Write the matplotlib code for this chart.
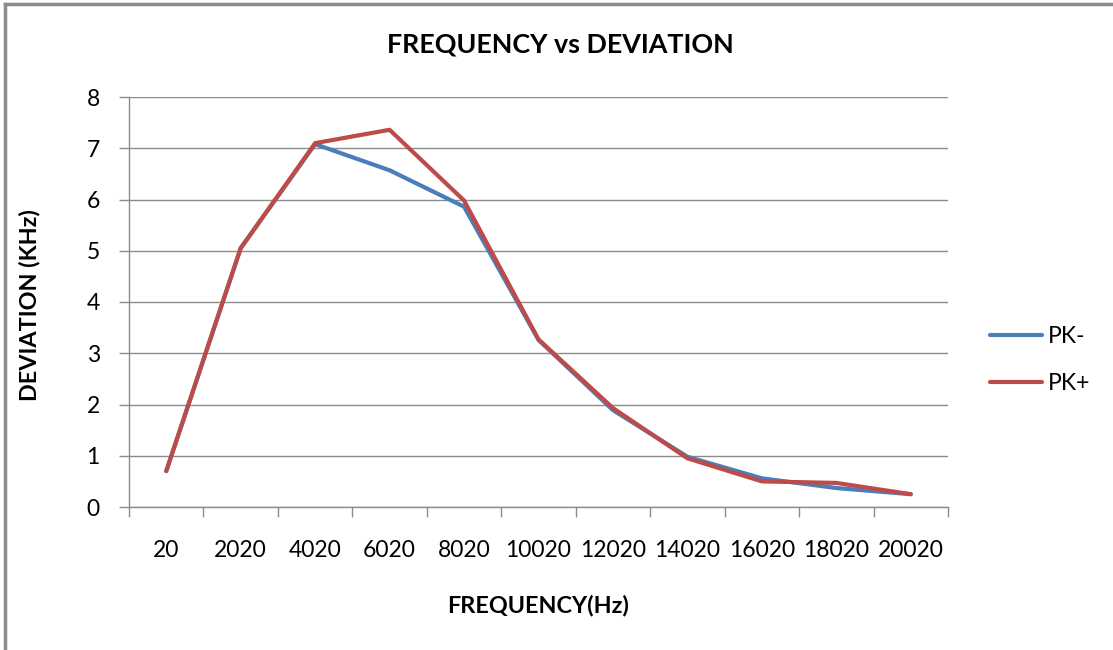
import matplotlib
matplotlib.use("Agg")
import matplotlib.pyplot as plt
from matplotlib.lines import Line2D
import numpy as np

plt.rcParams['font.family'] = ['Lato', 'DejaVu Sans']

categories = ["20", "2020", "4020", "6020", "8020", "10020", "12020", "14020", "16020", "18020", "20020"]
pk_minus = [0.70, 5.05, 7.08, 6.57, 5.86, 3.26, 1.89, 0.98, 0.56, 0.37, 0.25]
pk_plus = [0.70, 5.05, 7.10, 7.36, 5.98, 3.27, 1.93, 0.95, 0.50, 0.47, 0.25]
series_names = ["PK-", "PK+"]
colors = ["#4A7EBB", "#BE4B48"]
grid_color = "#8C8C8C"

fig = plt.figure(figsize=(11.13, 6.5), dpi=100)
ax = fig.add_axes([129/1113, 1-507/650, (948-129)/1113, (507-97)/650])

x = np.arange(len(categories))
ax.plot(x, pk_minus, color=colors[0], lw=3.0, solid_capstyle='round', solid_joinstyle='round', label=series_names[0], zorder=3)
ax.plot(x, pk_plus, color=colors[1], lw=3.0, solid_capstyle='round', solid_joinstyle='round', label=series_names[1], zorder=4)

ax.set_xlim(-0.5, len(categories) - 0.5)
ax.set_ylim(0, 8)
ax.set_yticks(range(0, 9))
ax.yaxis.grid(True, color=grid_color, lw=1.0)
ax.set_axisbelow(True)

# major ticks at category boundaries (no labels), minor ticks carry the labels
ax.set_xticks(np.arange(-0.5, len(categories), 1.0))
ax.set_xticklabels([])
ax.set_xticks(x, minor=True)
ax.set_xticklabels(categories, minor=True)
ax.tick_params(axis='x', which='major', length=7, width=1, color=grid_color, direction='out')
ax.tick_params(axis='x', which='minor', length=0, pad=24, labelsize=16.5)
ax.tick_params(axis='y', length=7, width=1, color=grid_color, pad=14, labelsize=16.5)

for s in ['top', 'right']:
    ax.spines[s].set_visible(False)
for s in ['left', 'bottom']:
    ax.spines[s].set_color(grid_color)
    ax.spines[s].set_linewidth(1.0)

fig.text(560/1113, 1-45/650, "FREQUENCY vs DEVIATION", ha='center', va='center', fontsize=19.4, fontweight='bold')
fig.text(30/1113, 1-305/650, "DEVIATION (KHz)", ha='center', va='center', rotation=90, fontsize=16.8, fontweight='bold')
fig.text(538/1113, 1-605/650, "FREQUENCY(Hz)", ha='center', va='center', fontsize=16.8, fontweight='bold')

leg = fig.legend(handles=ax.get_lines(), labels=series_names, loc='center left',
                 bbox_to_anchor=(969/1113, 1-360/650), frameon=False, fontsize=16.5,
                 handlelength=2.3, handletextpad=0.25, labelspacing=1.15)

# chart-area border (top and left visible)
fig.add_artist(Line2D([5/1113, 1.0], [1-4/650, 1-4/650], color="#8C8C8C", lw=2.5, transform=fig.transFigure))
fig.add_artist(Line2D([5/1113, 5/1113], [0.0, 1-4/650], color="#8C8C8C", lw=2.5, transform=fig.transFigure))

fig.savefig("out.png", dpi=100, facecolor="white")
